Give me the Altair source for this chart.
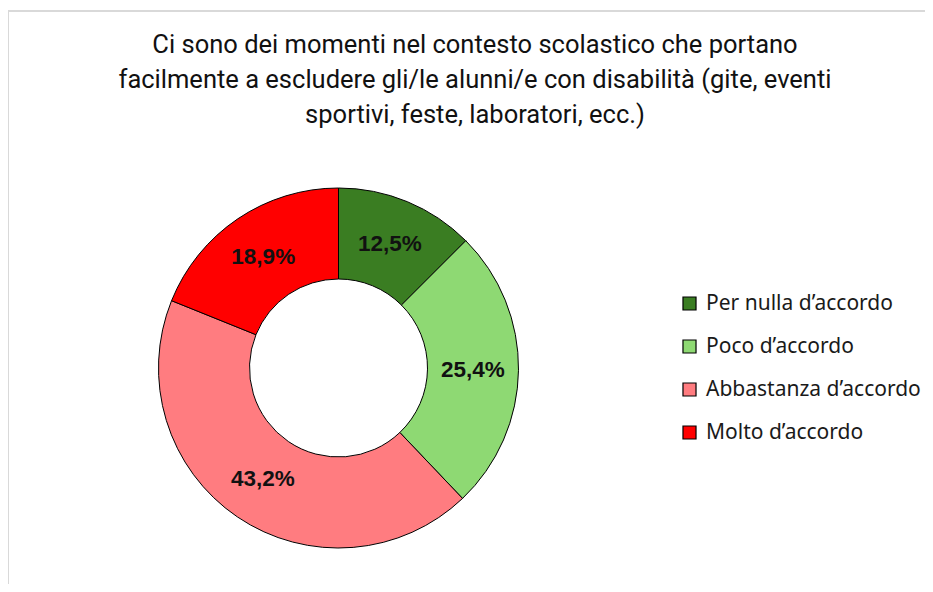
import altair as alt
import pandas as pd

categories = ["Per nulla d\u2019accordo", "Poco d\u2019accordo", "Abbastanza d\u2019accordo", "Molto d\u2019accordo"]
values = [12.5, 25.4, 43.2, 18.9]
labels = ["12,5%", "25,4%", "43,2%", "18,9%"]
colors = ["#3a7d22", "#8ed973", "#ff7c80", "#ff0000"]
title_lines = [
    "Ci sono dei momenti nel contesto scolastico che portano",
    "facilmente a escludere gli/le alunni/e con disabilità (gite, eventi",
    "sportivi, feste, laboratori, ecc.)",
]

df = pd.DataFrame({"cat": categories, "val": values, "lab": labels, "ord": list(range(len(categories)))})

W, H = 917, 576
CX, CY = 330.5, 360

color_scale = alt.Scale(domain=categories, range=colors)

base = alt.Chart(df).encode(
    theta=alt.Theta("val:Q", stack=True),
    order=alt.Order("ord:Q"),
)

arcs = base.mark_arc(outerRadius=180, innerRadius=89, stroke="black", strokeWidth=1).encode(
    color=alt.Color(
        "cat:N",
        scale=color_scale,
        sort=categories,
        legend=alt.Legend(
            title=None,
            orient="none",
            legendX=671,
            legendY=285,
            symbolType="square",
            symbolSize=170,
            symbolStrokeColor="black",
            symbolStrokeWidth=1.2,
            labelFont="Noto Sans",
            labelFontSize=21,
            labelColor="#1a1a1a",
            labelOffset=6,
            labelLimit=400,
            rowPadding=21,
            symbolOpacity=1,
        ),
    ),
    x=alt.value(CX),
    y=alt.value(CY),
)

texts = base.mark_text(radius=134.5, font="Liberation Sans", fontWeight="bold", fontSize=22.5, color="#111111").encode(
    text="lab:N",
    x=alt.value(CX),
    y=alt.value(CY),
)

title = alt.Chart(pd.DataFrame({"k": [0]})).mark_text(
    font="Roboto", fontSize=25.5, lineHeight=35, align="center", baseline="middle", color="#111111"
).encode(
    text=alt.value(title_lines),
    x=alt.value(467),
    y=alt.value(37),
)

border = alt.Chart(pd.DataFrame({"k": [0]})).mark_rect(
    fill="transparent", stroke="#d9d9d9", strokeWidth=2
).encode(
    x=alt.value(0), x2=alt.value(W + 10), y=alt.value(3), y2=alt.value(H + 10)
)

chart = alt.layer(border, arcs, texts, title).properties(
    width=W, height=H, autosize=alt.AutoSizeParams(type="none"), padding=0
).configure_view(stroke=None)

chart.save("out.html", embed_options={"renderer": "svg", "actions": False})
